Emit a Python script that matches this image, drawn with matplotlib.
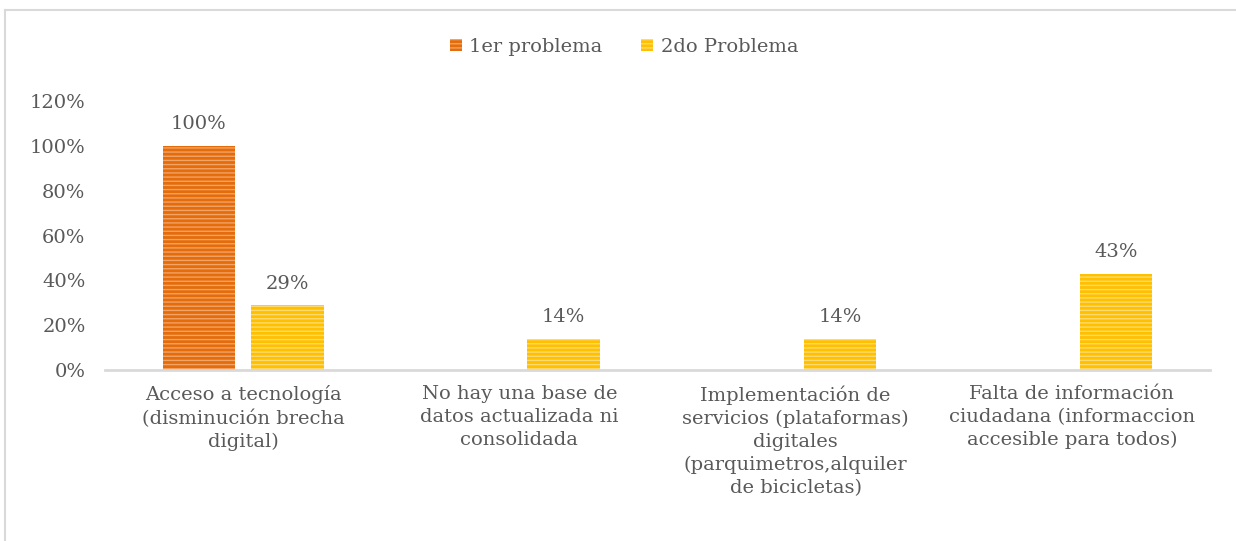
import matplotlib.pyplot as plt
import numpy as np
from matplotlib.lines import Line2D

plt.rcParams['font.family'] = ['DejaVu Serif']
plt.rcParams['hatch.linewidth'] = 1.0

# Datos
categorias = ['Acceso a tecnología\n(disminución brecha\ndigital)',
              'No hay una base de\ndatos actualizada ni\nconsolidada',
              'Implementación de\nservicios (plataformas)\ndigitales\n(parquimetros,alquiler\nde bicicletas)',
              'Falta de información\nciudadana (informaccion\naccesible para todos)']
problema_1 = [100, 0, 0, 0]
problema_2 = [29, 14, 14, 43]
series = ['1er problema', '2do Problema']

gris = '#595959'
naranja = '#E46C0A'
naranja_claro = '#F2A366'
amarillo = '#FFC000'
amarillo_claro = '#FFDA70'

fig = plt.figure(figsize=(12.36, 5.41), dpi=100)
ax = fig.add_axes([0.085, 0.316, 0.894, 0.497])

x = np.arange(len(categorias))
ancho = 0.262
sep = 0.029
b1 = ax.bar(x - ancho / 2 - sep, problema_1, ancho, color=naranja,
            edgecolor=naranja_claro, linewidth=0, hatch='----', label=series[0])
b2 = ax.bar(x + ancho / 2 + sep, problema_2, ancho, color=amarillo,
            edgecolor=amarillo_claro, linewidth=0, hatch='----', label=series[1])

for barras in (b1, b2):
    for b in barras:
        h = b.get_height()
        if h > 0:
            ax.annotate(f'{h:.0f}%', (b.get_x() + b.get_width() / 2, h),
                        xytext=(0, 9), textcoords='offset points',
                        ha='center', va='bottom', fontsize=14, color=gris)

ax.set_xlim(-0.5, 3.5)
ax.set_ylim(0, 120)
ax.set_yticks(np.arange(0, 121, 20))
ax.set_yticklabels([f'{v}%' for v in range(0, 121, 20)], fontsize=14, color=gris)
ax.set_xticks(x)
ax.set_xticklabels(categorias, fontsize=14, color=gris, linespacing=1.35)
ax.tick_params(length=0, pad=14)
ax.tick_params(axis='x', pad=11)
for s in ('top', 'right', 'left'):
    ax.spines[s].set_visible(False)
ax.spines['bottom'].set_color('#D9D9D9')
ax.spines['bottom'].set_linewidth(2)

fig.legend(loc='center', bbox_to_anchor=(0.505, 0.913), ncol=2, frameon=False,
           fontsize=14, labelcolor=gris, handlelength=0.6, handleheight=0.6,
           handletextpad=0.4, columnspacing=2.0)

# Borde del gráfico
fig.add_artist(Line2D([0.004, 0.004], [0, 0.982], color='#D9D9D9', lw=1.5))
fig.add_artist(Line2D([0.004, 1.0], [0.982, 0.982], color='#D9D9D9', lw=1.5))

plt.savefig('out.png', dpi=100)
